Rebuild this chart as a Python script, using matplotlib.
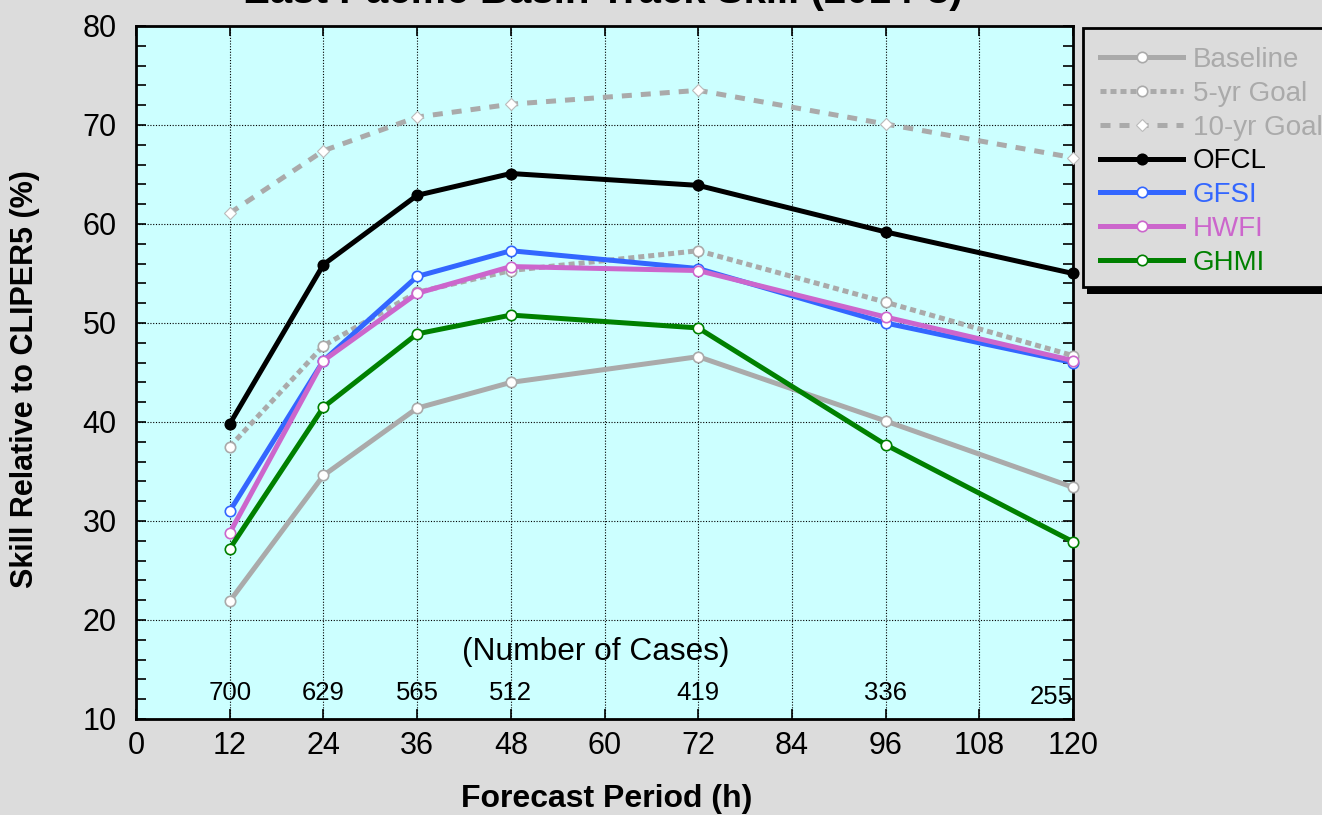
import matplotlib
matplotlib.use("Agg")
import matplotlib.pyplot as plt
from matplotlib.patches import Rectangle

plt.rcParams['font.family'] = ['Liberation Sans', 'DejaVu Sans']

# Forecast periods (h) and skill (%) relative to CLIPER5
hours = [12, 24, 36, 48, 72, 96, 120]
baseline = [21.9, 34.6, 41.4, 44.0, 46.6, 40.1, 33.4]
goal_5yr = [37.5, 47.7, 53.1, 55.3, 57.3, 52.1, 46.7]
goal_10yr = [61.1, 67.4, 70.8, 72.1, 73.5, 70.1, 66.7]
ofcl = [39.8, 55.9, 62.9, 65.1, 63.9, 59.2, 55.0]
gfsi = [31.0, 46.2, 54.7, 57.3, 55.5, 50.0, 46.0]
hwfi = [28.8, 46.2, 53.0, 55.7, 55.3, 50.6, 46.2]
ghmi = [27.2, 41.5, 48.9, 50.8, 49.5, 37.7, 27.9]
num_cases = [700, 629, 565, 512, 419, 336, 255]

x_ticks = [0, 12, 24, 36, 48, 60, 72, 84, 96, 108, 120]
y_ticks = [10, 20, 30, 40, 50, 60, 70, 80]

GRAY = '#AAAAAA'
BLUE = '#3366FF'
PINK = '#CC66CC'
GREEN = '#008000'
BG = '#DCDCDC'

fig = plt.figure(figsize=(13.22, 8.15), dpi=100, facecolor=BG)
ax = fig.add_axes([0.1029, 0.1178, 0.7088, 0.8503])
ax.set_facecolor('#CCFFFF')

lw = 3.6
ms = 7.5
series = [
    ('Baseline', baseline, dict(color=GRAY, ls='-', marker='o', mfc='white', mec=GRAY, ms=ms)),
    ('5-yr Goal', goal_5yr, dict(color=GRAY, ls=(0, (1.2, 0.8)), marker='o', mfc='white', mec=GRAY, ms=ms)),
    ('10-yr Goal', goal_10yr, dict(color=GRAY, ls=(0, (2.0, 1.8)), marker='D', mfc='white', mec='#BBBBBB', ms=6.5, mew=0.8)),
    ('OFCL', ofcl, dict(color='black', ls='-', marker='o', mfc='black', mec='black', ms=ms)),
    ('GFSI', gfsi, dict(color=BLUE, ls='-', marker='o', mfc='white', mec=BLUE, ms=ms)),
    ('HWFI', hwfi, dict(color=PINK, ls='-', marker='o', mfc='white', mec=PINK, ms=ms)),
    ('GHMI', ghmi, dict(color=GREEN, ls='-', marker='o', mfc='white', mec=GREEN, ms=ms)),
]
handles = []
for z, (name, vals, style) in enumerate(series):
    h, = ax.plot(hours, vals, lw=lw, label=name, clip_on=False, zorder=3 + z,
                 mew=style.pop('mew', 1.2), **style)
    handles.append(h)

ax.set_xlim(0, 120)
ax.set_ylim(10, 80)
ax.set_xticks(x_ticks)
ax.set_yticks(y_ticks)
ax.set_yticks(range(10, 81, 2), minor=True)
ax.tick_params(axis='both', which='both', direction='in', top=True, right=True,
               length=7, width=1.2, colors='black', labelsize=22)
ax.tick_params(axis='y', which='major', pad=14)
ax.tick_params(axis='x', which='major', pad=9)
ax.grid(True, which='major', color='black', ls=(0, (1, 1.5)), lw=0.8)
for s in ax.spines.values():
    s.set_linewidth(2)
ax.set_axisbelow(True)

ax.set_xlabel('Forecast Period (h)', fontsize=23, fontweight='bold')
ax.set_ylabel('Skill Relative to CLIPER5 (%)', fontsize=22, fontweight='bold')
ax.xaxis.set_label_coords(0.502, -0.094)
ax.yaxis.set_label_coords(-0.102, 0.49)

# Number of cases along the bottom of the plot
ax.text(58.9, 16.8, '(Number of Cases)', fontsize=22.8, ha='center', va='center')
for h, n in zip(hours, num_cases):
    if h == hours[-1]:
        ax.text(h, 12.2, str(n), fontsize=18.5, ha='right', va='center')
    else:
        ax.text(h, 12.65, str(n), fontsize=18.5, ha='center', va='center')

# Title, mostly above the top of the canvas
fig.text(0.456, 1 - 3 / 815, 'East Pacific Basin Track Skill (2014-8)', fontsize=29,
         fontweight='bold', ha='center', va='baseline')

# Legend panel with drop shadow
left, top, bottom = 1083 / 1322, 1 - 28 / 815, 1 - 287 / 815
fig.patches.append(Rectangle((left + 4 / 1322, bottom - 7 / 815), 0.3, top - bottom,
                             transform=fig.transFigure, facecolor='black', edgecolor='none'))
fig.patches.append(Rectangle((left, bottom), 0.3, top - bottom, transform=fig.transFigure,
                             facecolor=BG, edgecolor='black', lw=2))
leg = fig.legend(handles=handles, loc='upper left', bbox_to_anchor=(1100 / 1322, 1 - 47 / 815),
                 frameon=False, fontsize=20, labelcolor='linecolor', handlelength=3.0,
                 handletextpad=0.35, labelspacing=0.28, borderpad=0, borderaxespad=0)

fig.savefig('out.png', dpi=100, facecolor=BG)
